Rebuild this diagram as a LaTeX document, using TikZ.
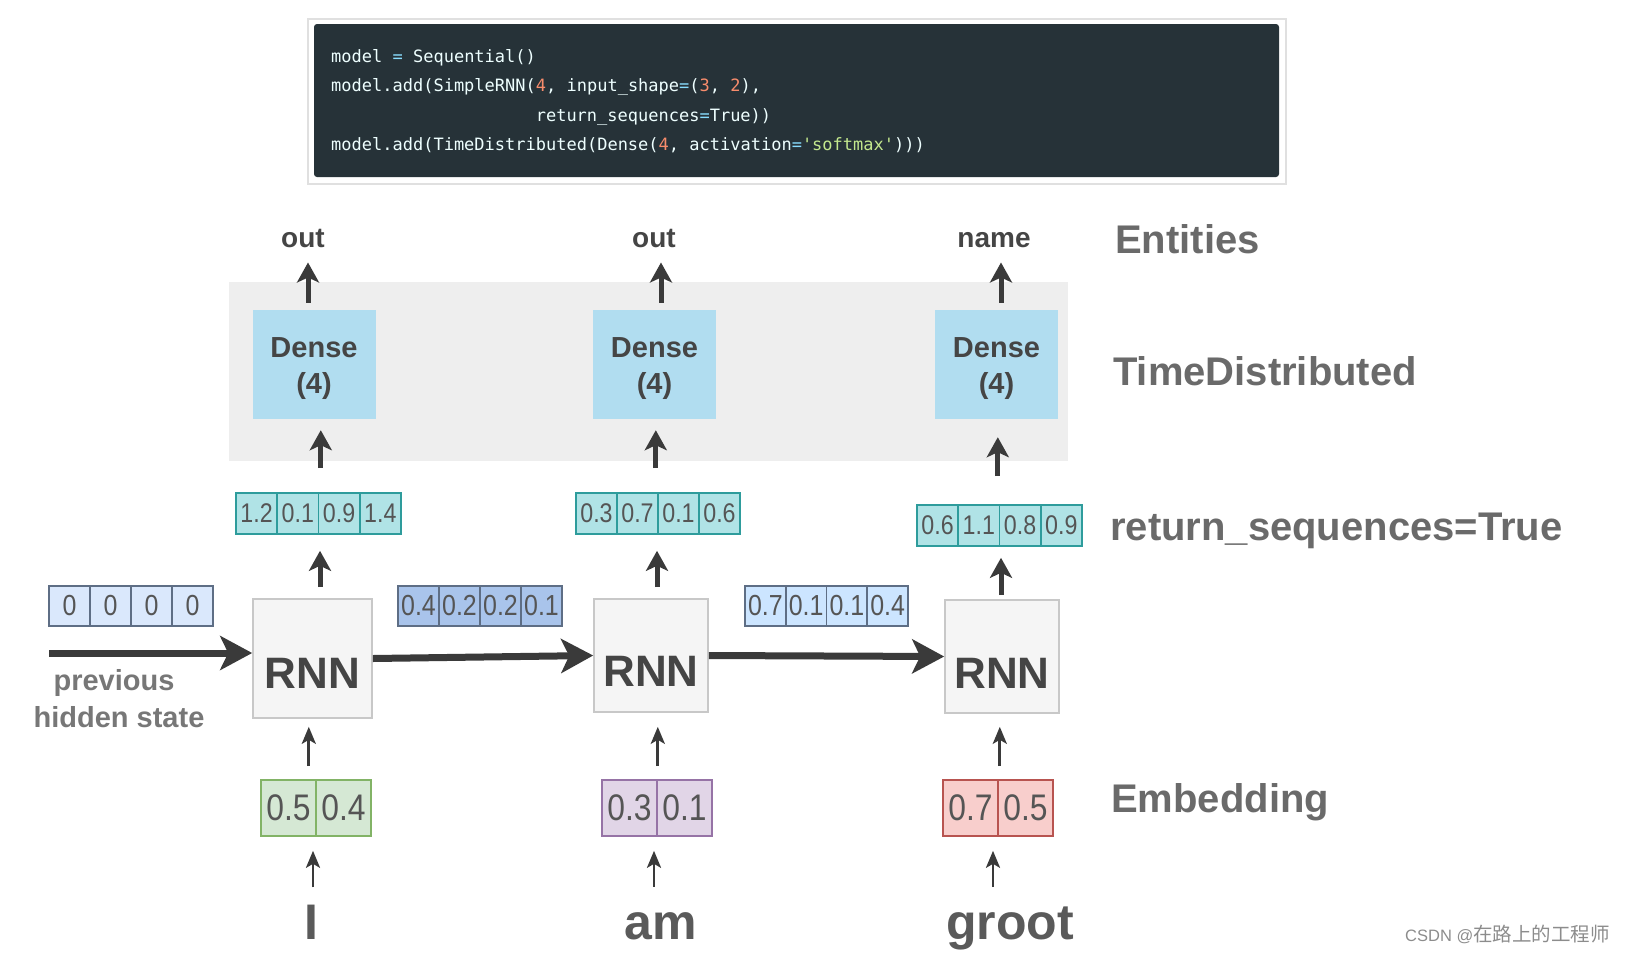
\documentclass[tikz,border=0pt]{standalone}
\usepackage{fontspec}
\setmainfont{Liberation Sans}
\newfontfamily\numfont[FakeStretch=0.86]{Liberation Sans}
\newfontfamily\codefont{DejaVu Sans Mono}
\newfontfamily\cjkfont{Noto Sans CJK SC}
\usetikzlibrary{arrows.meta}
\definecolor{codebg}{HTML}{263238}
\definecolor{codefg}{HTML}{EEFFFF}
\definecolor{codeop}{HTML}{89DDFF}
\definecolor{codenum}{HTML}{F78C6C}
\definecolor{codestr}{HTML}{C3E88D}
\definecolor{tdgray}{HTML}{EEEEEE}
\definecolor{densefill}{HTML}{B1DDF0}
\definecolor{rnnfill}{HTML}{F5F5F5}
\definecolor{rnnline}{HTML}{C8C8C8}
\definecolor{tealfill}{HTML}{B0E3E6}
\definecolor{tealline}{HTML}{2E9C9C}
\definecolor{hidline}{HTML}{5E6E85}
\definecolor{hidfillA}{HTML}{DAE8FC}
\definecolor{hidfillB}{HTML}{A9C4EB}
\definecolor{hidfillC}{HTML}{CCE5FF}
\definecolor{grnfill}{HTML}{D5E8D4}
\definecolor{grnline}{HTML}{82B366}
\definecolor{purfill}{HTML}{E1D5E7}
\definecolor{purline}{HTML}{9673A6}
\definecolor{redfill}{HTML}{F8CECC}
\definecolor{redline}{HTML}{B85450}
\definecolor{arrowgray}{HTML}{3A3A3A}
\definecolor{lbldark}{HTML}{454545}
\definecolor{lblmid}{HTML}{5A5A5A}
\definecolor{lblright}{HTML}{6A6A6A}
\definecolor{lbllight}{HTML}{777777}
\definecolor{numgray}{HTML}{555555}
\definecolor{wmgray}{HTML}{8C8C8C}
\newcommand\fsz[1]{\fontsize{#1}{#1}\selectfont}
\newcommand\cellrow[6]{\foreach \cv [count=\ci] in {#6} {\node[#5, minimum width=#4pt] (#1-\ci) at ({#2+(\ci-0.5)*#4},#3) {\cv};}}
\newcommand\uparr[6]{\draw[#1, shorten <=#5pt, shorten >=#6pt] ([xshift=#4pt]#2) -- ([xshift=#4pt]#2 |- #3);}
\begin{document}
\begin{tikzpicture}[x=1pt,y=-1pt,
  code/.style={inner sep=0pt, anchor=base west, font=\codefont\fsz{17}, text=codefg},
  lbl/.style={inner sep=0pt, anchor=base, font=\bfseries\fsz{28}, text=lbldark},
  dense/.style={fill=densefill, minimum width=123pt, minimum height=109pt, inner sep=0pt},
  denselbl/.style={inner sep=0pt, align=center, font=\bfseries\fontsize{29}{36}\selectfont, text=lbldark},
  rnn/.style={draw=rnnline, fill=rnnfill, line width=1.6pt, inner sep=0pt},
  rnnlbl/.style={inner sep=0pt, font=\bfseries\fsz{44}, text=lbldark},
  wlbl/.style={inner sep=0pt, anchor=base, font=\bfseries\fsz{50}, text=lblmid},
  rlbl/.style={inner sep=0pt, anchor=base west, font=\bfseries\fsz{40}, text=lblright},
  tcell/.style={draw=tealline, fill=tealfill, line width=1.6pt, minimum height=41pt, inner sep=0pt, font=\numfont\fsz{27}, text=numgray},
  hcell/.style={draw=hidline, line width=1.6pt, minimum height=40pt, inner sep=0pt, font=\numfont\fsz{29}, text=numgray},
  ecell/.style={line width=1.6pt, minimum height=56pt, inner sep=0pt, font=\numfont\fsz{37}, text=numgray},
  bigarrow/.style={draw=arrowgray, line width=5pt, -{Stealth[length=20pt,width=22pt,inset=5pt]}},
  thinarrow/.style={draw=arrowgray, line width=2.8pt, -{Stealth[length=17pt,width=14pt,inset=4pt]}},
  hugearrow/.style={draw=arrowgray, line width=7pt, -{Stealth[length=32pt,width=34pt,inset=8pt]}}
]
\useasboundingbox (0,0) rectangle (1626,954);
% code panel
\node[draw=black!12, line width=1.5pt, fill=white, minimum width=978pt, minimum height=165pt, inner sep=0pt] (codeouter) at (797,101.5) {};
\node[fill=codebg, rounded corners=3pt, minimum width=965pt, minimum height=153pt, inner sep=0pt] (codeinner) at (796.5,100.5) {};
\node[code] (c1) at (331,62) {model {\color{codeop}=} Sequential()};
\node[code] (c2) at (331,91) {model.add(SimpleRNN({\color{codenum}4}, input\_shape{\color{codeop}=}({\color{codenum}3}, {\color{codenum}2}),};
\node[code] (c3) at (535.6,121) {return\_sequences{\color{codeop}=}True))};
\node[code] (c4) at (331,150) {model.add(TimeDistributed(Dense({\color{codenum}4}, activation{\color{codeop}=}{\color{codestr}\textquotesingle softmax\textquotesingle})))};
% TimeDistributed region
\node[fill=tdgray, minimum width=839pt, minimum height=179pt, inner sep=0pt] (td) at (648.5,371.5) {};
\node[dense] (d1) at (314,364.5) {};
\node[dense] (d2) at (654.5,364.5) {};
\node[dense] (d3) at (996.5,364.5) {};
\node[denselbl] (d1t) at ([yshift=-4pt]d1.center) {Dense\\(4)};
\node[denselbl] (d2t) at ([yshift=-4pt]d2.center) {Dense\\(4)};
\node[denselbl] (d3t) at ([yshift=-4pt]d3.center) {Dense\\(4)};
% outputs
\node[lbl] (o1) at (303,247) {out};
\node[lbl] (o2) at (654,247) {out};
\node[lbl] (o3) at (994,247) {name};
% vectors
\cellrow{t1}{236}{513.5}{41.25}{tcell}{1.2,0.1,0.9,1.4}
\cellrow{t2}{576}{513.5}{41}{tcell}{0.3,0.7,0.1,0.6}
\cellrow{t3}{917}{525.5}{41.25}{tcell}{0.6,1.1,0.8,0.9}
\cellrow{h0}{49}{606}{41}{hcell, fill=hidfillA}{0,0,0,0}
\cellrow{h1}{398}{606}{41}{hcell, fill=hidfillB}{0.4,0.2,0.2,0.1}
\cellrow{h2}{745}{606}{40.75}{hcell, fill=hidfillC}{0.7,0.1,0.1,0.4}
\cellrow{e1}{261}{808}{55}{ecell, draw=grnline, fill=grnfill}{0.5,0.4}
\cellrow{e2}{602}{808}{55}{ecell, draw=purline, fill=purfill}{0.3,0.1}
\cellrow{e3}{943}{808}{55}{ecell, draw=redline, fill=redfill}{0.7,0.5}
% RNN cells
\node[rnn, minimum width=119pt, minimum height=119pt] (r1) at (312.5,658.5) {};
\node[rnn, minimum width=114pt, minimum height=113pt] (r2) at (651,655.5) {};
\node[rnn, minimum width=114pt, minimum height=113pt] (r3) at (1002,656.5) {};
\node[rnnlbl] (r1t) at ([yshift=-15pt]r1.center) {RNN};
\node[rnnlbl] (r2t) at ([yshift=-16pt]r2.center) {RNN};
\node[rnnlbl] (r3t) at ([yshift=-17pt]r3.center) {RNN};
% previous hidden state
\node[lbl, text=lbllight, font=\bfseries\fsz{29}] (p1) at (114,690) {previous};
\node[lbl, text=lbllight, font=\bfseries\fsz{29}] (p2) at (119,727) {hidden state};
% words
\node[wlbl] (w1) at (311,939) {I};
\node[wlbl] (w2) at (661,939) {am};
\node[wlbl] (w3) at (1010,939) {groot};
% right labels
\node[rlbl] (lent) at (1115,253) {Entities};
\node[rlbl] (ltd) at (1113,385) {TimeDistributed};
\node[rlbl] (lrs) at (1110,540) {return\_sequences=True};
\node[rlbl] (lemb) at (1111,812) {Embedding};
% watermark
\node[inner sep=0pt, anchor=base east, text=wmgray] (wm) at (1610,941) {\fsz{16.5}CSDN @\cjkfont\fsz{19.5}在路上的工程师};
% arrows: dense -> outputs
\uparr{bigarrow}{d1.north}{o1.south}{-6}{7}{15}
\uparr{bigarrow}{d2.north}{o2.south}{6.5}{7}{15}
\uparr{bigarrow}{d3.north}{o3.south}{4.5}{7}{15}
% teal -> dense
\uparr{bigarrow}{t1-2.north east}{d1.south}{1.5}{24}{11}
\uparr{bigarrow}{t2-2.north east}{d2.south}{-3}{24}{11}
\uparr{bigarrow}{t3-2.north east}{d3.south}{-2.5}{28}{18}
% rnn -> teal
\uparr{bigarrow}{r1.north}{t1-2.south}{7.5}{11}{16}
\uparr{bigarrow}{r2.north}{t2-2.south}{6}{11}{16}
\uparr{bigarrow}{r3.north}{t3-2.south}{-1}{4}{11}
% embedding -> rnn
\uparr{thinarrow}{e1-1.north east}{r1.south}{-8}{13}{8}
\uparr{thinarrow}{e2-1.north east}{r2.south}{0}{13}{14}
\uparr{thinarrow}{e3-1.north east}{r3.south}{1}{13}{13}
% words -> embedding
\uparr{thinarrow}{w1.north}{e1-1.south}{2}{17}{14}
\uparr{thinarrow}{w2.north}{e2-1.south}{-7}{25}{14}
\uparr{thinarrow}{w3.north}{e3-1.south}{-17}{19}{14}
% hidden state flow
\coordinate (prevstart) at (49,653);
\draw[hugearrow] (prevstart) -- (prevstart -| r1.west);
\draw[hugearrow] (r1.east) -- (r2.west);
\draw[hugearrow] (r2.east) -- (r3.west);
\end{tikzpicture}
\end{document}
